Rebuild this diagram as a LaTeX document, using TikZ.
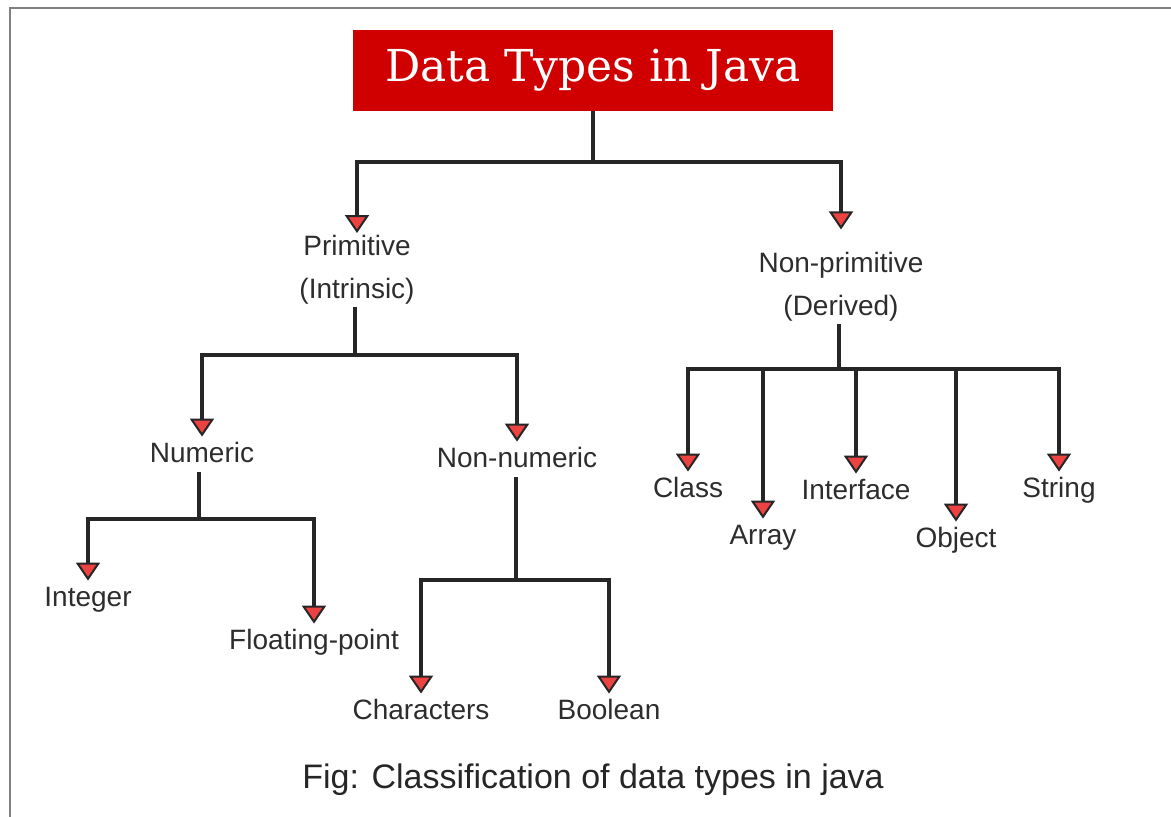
\documentclass[tikz,border=0pt]{standalone}
\usepackage{fontspec}
\setmainfont{Liberation Sans}
\newfontfamily\titlefont{DejaVu Serif}
\usepackage{xcolor}
\usetikzlibrary{arrows.meta}
\definecolor{titlered}{RGB}{208,0,0}
\definecolor{tipred}{RGB}{236,66,66}
\definecolor{labelgray}{RGB}{45,45,45}

\begin{document}
\begin{tikzpicture}[x=0.5pt,y=0.5pt]
            \tikzstyle{every node}+=[inner sep=2pt, text=labelgray, font=\fontsize{14}{21.5}\selectfont]
            \tikzstyle{stem}=[line width=1.6pt, black!85]
            \tikzstyle{branch}=[stem, -{Triangle[width=12pt,length=9pt,fill=tipred,line width=1pt]}]
            \tikzstyle{lbl}=[anchor=base, text height=10.5pt, text depth=3pt]
            \tikzstyle{twolines}=[align=center, inner sep=1pt]
            \useasboundingbox (0,0) rectangle (1171,-817);
            \draw [gray, line width=1pt] (10,-817) -- (10,-8) -- (1171,-8);
            \node [fill=titlered, minimum width=240pt, minimum height=40.5pt, text=white, font=\titlefont\fontsize{22}{26}\selectfont] (title) at (593,-70.5) {Data Types in Java};
            \node [twolines] (prim) at (357,-270) {Primitive\\(Intrinsic)};
            \node [twolines] (nonprim) at (841,-287) {Non-primitive\\(Derived)};
            \node [lbl] (num) at (202,-462) {Numeric};
            \node [lbl] (nonnum) at (517,-467) {Non-numeric};
            \node [lbl] (int) at (88,-606) {Integer};
            \node [lbl] (float) at (314,-649) {Floating-point};
            \node [lbl] (char) at (421,-719) {Characters};
            \node [lbl] (bool) at (609,-719) {Boolean};
            \node [lbl] (class) at (688,-497) {Class};
            \node [lbl] (array) at (763,-544) {Array};
            \node [lbl] (iface) at (856,-499) {Interface};
            \node [lbl] (obj) at (956,-547) {Object};
            \node [lbl] (str) at (1059,-497) {String};
            \node [anchor=base, font=\fontsize{17}{20}\selectfont, text=black!85] (caption) at (593,-788) {Fig: Classification of data types in java};
            \coordinate (j0) at (593,-162);
            \coordinate (j1) at (355,-355);
            \coordinate (j2) at (839,-369);
            \coordinate (j3) at (199,-519);
            \coordinate (j4) at (516,-580);
            \draw [stem] (title) -- (j0);
            \draw [branch] (j0) -| (prim.north);
            \draw [branch] (j0) -| ([yshift=10.3pt]nonprim.north);
            \draw [stem] (prim.south -| j1) -- (j1);
            \draw [branch] (j1) -| (num.north);
            \draw [branch] (j1) -| (nonnum.north);
            \draw [stem] (nonprim.south -| j2) -- (j2);
            \draw [branch] (j2) -| (class.north);
            \draw [branch] (j2) -| (array.north);
            \draw [branch] (j2) -| (iface.north);
            \draw [branch] (j2) -| (obj.north);
            \draw [branch] (j2) -| (str.north);
            \draw [stem] (num.south -| j3) -- (j3);
            \draw [branch] (j3) -| (int.north);
            \draw [branch] (j3) -| (float.north);
            \draw [stem] (nonnum.south -| j4) -- (j4);
            \draw [branch] (j4) -| (char.north);
            \draw [branch] (j4) -| (bool.north);
\end{tikzpicture}
\end{document}
